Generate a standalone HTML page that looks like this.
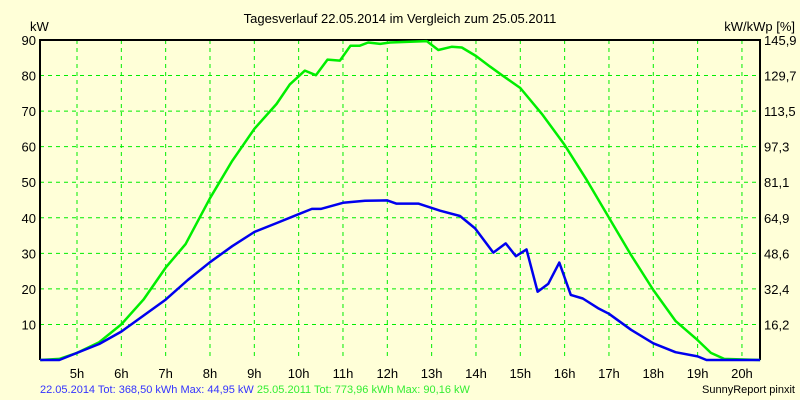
<!DOCTYPE html>
<html><head><meta charset="utf-8"><style>
html,body{margin:0;padding:0;background:#ffffd8;}
svg{display:block;font-family:"Liberation Sans",sans-serif;}
</style></head><body>
<svg id="chart" width="800" height="400" viewBox="0 0 800 400">
<rect x="0" y="0" width="800" height="400" fill="#ffffd8"/>
<text x="400" y="23" font-size="13" text-anchor="middle" fill="#000">Tagesverlauf 22.05.2014 im Vergleich zum 25.05.2011</text>
<text x="30" y="31" font-size="13" fill="#000">kW</text>
<text x="795" y="31" font-size="13" text-anchor="end" fill="#000">kW/kWp [%]</text>
<g id="grid"></g><g id="axes"></g><g id="series"></g>
<text x="40" y="393" font-size="11" fill="#3333ff">22.05.2014 Tot: 368,50 kWh Max: 44,95 kW <tspan fill="#33ee33">25.05.2011 Tot: 773,96 kWh Max: 90,16 kW</tspan></text>
<text x="795" y="393" font-size="11" text-anchor="end" fill="#000">SunnyReport pinxit</text>
</svg>
<script>
const hourTicks=[5,6,7,8,9,10,11,12,13,14,15,16,17,18,19,20];
const leftTicks=[10,20,30,40,50,60,70,80,90];
const rightTickLabels=["16,2","32,4","48,6","64,9","81,1","97,3","113,5","129,7","145,9"];
const greenHours=[4.17,4.6,5,5.5,6,6.5,7,7.45,8,8.5,9,9.5,9.8,10.14,10.39,10.65,10.93,11.17,11.38,11.57,11.84,12.06,12.89,13.15,13.45,13.68,14,14.32,14.6,15,15.5,16,16.5,17,17.5,18,18.5,19,19.3,19.6,20.41];
const greenValues=[0,0.3,2,5,10,17,26,32.6,45.5,56,65,72,77.5,81.4,80.1,84.5,84.2,88.4,88.4,89.3,88.9,89.3,89.7,87.2,88.1,87.9,85.5,82.5,80,76.5,69,60.5,50.6,40,29.5,19.7,11,5.6,2,0.3,0];
const blueHours=[4.17,4.6,5,5.5,6,6.5,7,7.5,8,8.5,9,9.5,10,10.3,10.5,11,11.5,12,12.2,12.7,13.19,13.64,13.98,14.39,14.67,14.9,15.14,15.39,15.63,15.88,16.14,16.41,16.75,17,17.5,18,18.5,19,19.2,20.41];
const blueValues=[0,0,2,4.5,8,12.5,17,22.5,27.5,32,36,38.5,41,42.5,42.5,44.2,44.8,44.9,44,44,42,40.5,37,30.2,32.8,29.2,31.1,19.2,21.4,27.4,18.3,17.3,14.6,13,8.5,4.7,2.2,1,0,0];
const NS="http://www.w3.org/2000/svg";
const L=40,R=760,T=40,B=360;
const xs=h=>77+(h-5)*44.33;
const ys=v=>B-v*(B-T)/90;
function mk(tag,attrs,parent){const e=document.createElementNS(NS,tag);for(const k in attrs)e.setAttribute(k,attrs[k]);parent.appendChild(e);return e;}
const grid=document.getElementById('grid'),axes=document.getElementById('axes'),series=document.getElementById('series');
hourTicks.forEach(h=>{
  const ln=mk('line',{x1:xs(h),x2:xs(h),y1:T,y2:B,stroke:'#00ee00','stroke-dasharray':'4,4','stroke-width':1},grid);
  
  
  const t=mk('text',{x:xs(h),y:378,'font-size':13,'text-anchor':'middle',fill:'#000'},axes);
  t.textContent=h+'h';
  
  
});
leftTicks.forEach((v,i)=>{
  const ln=mk('line',{x1:L,x2:R,y1:ys(v),y2:ys(v),stroke:'#00ee00','stroke-dasharray':'4,4','stroke-width':1},grid);
  
  
  const t=mk('text',{x:L-4,y:ys(v)+5,'font-size':13,'text-anchor':'end',fill:'#000'},axes);
  t.textContent=v;
  
  
  const r=mk('text',{x:R+4,y:ys(v)+5,'font-size':13,fill:'#000'},axes);
  r.textContent=rightTickLabels[i];
  
  
});
const frame=mk('path',{d:`M${L},${B}V${T}H${R}V${B}`,fill:'none',stroke:'#000','stroke-width':2},axes);


function line(hs,vs,color,name){
  const d=hs.map((h,i)=>(i?'L':'M')+xs(h).toFixed(1)+','+ys(vs[i]).toFixed(1)).join('');
  const p=mk('path',{d:d,fill:'none',stroke:color,'stroke-width':2.5,'stroke-linejoin':'round'},series);
  
  
}
line(greenHours,greenValues,'#00ee00','series-2011-line');
line(blueHours,blueValues,'#0000ee','series-2014-line');
</script>
</body></html>
